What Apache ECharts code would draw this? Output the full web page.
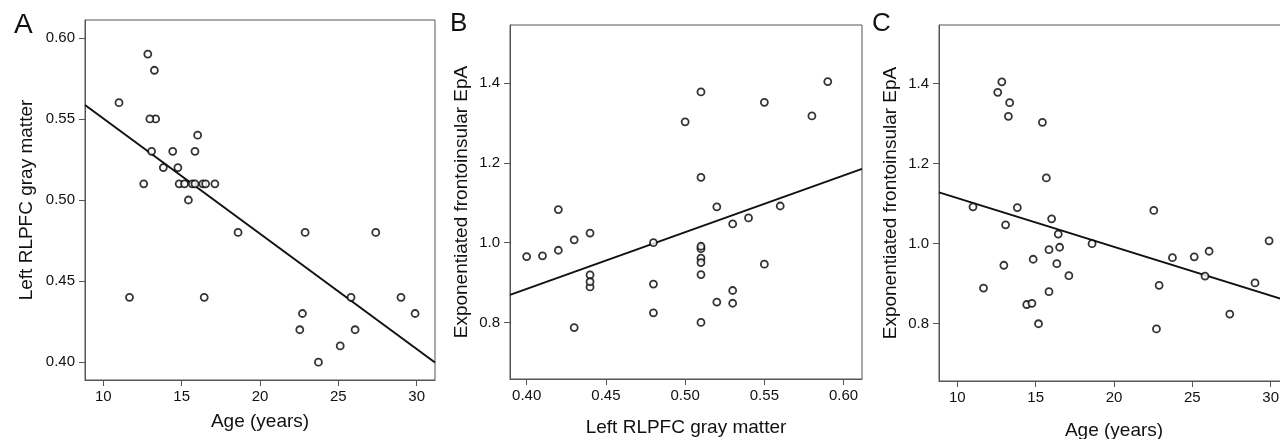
<!DOCTYPE html>
<html>
<head>
  <meta charset="utf-8">
  <title>RLPFC gray matter, age and frontoinsular EpA</title>
  <script src="https://cdn.jsdelivr.net/npm/echarts@6/dist/echarts.min.js"></script>
</head>
<body style="margin:0;background:#fff">
  <div id="main" style="width:1280px;height:439px;"></div>
  <script type="text/javascript">
    // one entry per subject (33)
    var age = [11.0, 11.67, 12.58, 12.84, 13.34, 13.26, 13.08, 12.97, 13.83, 14.43, 14.76,
      14.84, 15.18, 15.43, 15.68, 15.85, 15.85, 16.02, 16.35, 16.44, 16.53, 17.12,
      18.6, 22.54, 22.71, 22.88, 23.73, 25.12, 25.81, 26.07, 27.39, 29.0, 29.9];
    var grayMatter = [0.56, 0.44, 0.51, 0.59, 0.55, 0.58, 0.53, 0.55, 0.52, 0.53, 0.52,
      0.51, 0.51, 0.50, 0.51, 0.51, 0.53, 0.54, 0.51, 0.44, 0.51, 0.51,
      0.48, 0.42, 0.43, 0.48, 0.40, 0.41, 0.44, 0.42, 0.48, 0.44, 0.43];
    var epa = [1.092, 0.889, 1.378, 1.404, 1.352, 1.318, 1.047, 0.946, 1.090, 0.848, 0.851,
      0.961, 0.800, 1.303, 1.164, 0.985, 0.880, 1.062, 0.950, 1.024, 0.991, 0.920,
      1.000, 1.083, 0.787, 0.896, 0.965, 0.967, 0.919, 0.981, 0.824, 0.902, 1.007];

    // fit lines, end points
    var fitA = [[8.83, 0.5586], [31.17, 0.3998]];
    var fitB = [[0.3895, 0.869], [0.6116, 1.185]];
    var fitC = [[8.83, 1.128], [31.17, 0.856]];

    // tick labels
    var ageTicks = [10, 15, 20, 25, 30];
    var grayTicks = [0.40, 0.45, 0.50, 0.55, 0.60];
    var epaTicks = [0.8, 1.0, 1.2, 1.4];

    function pairs(xs, ys) {
      return xs.map(function (x, i) { return [x, ys[i]]; });
    }

    var font = 'Liberation Sans, Arial, sans-serif';
    var ink = '#111';
    var frame = '#555';

    function valueAxis(idx, min, max, ticks, digits, name, gap, margin) {
      return {
        type: 'value', gridIndex: idx, min: min, max: max,
        name: name, nameLocation: 'middle', nameGap: gap,
        nameTextStyle: { fontFamily: font, fontSize: 19, color: ink },
        splitLine: { show: false },
        axisLine: { show: true, lineStyle: { color: frame, width: 1 } },
        axisTick: { show: true, length: 6, customValues: ticks, lineStyle: { color: frame } },
        axisLabel: {
          customValues: ticks, margin: margin, fontFamily: font, fontSize: 15, color: ink,
          formatter: function (v) { return v.toFixed(digits); }
        }
      };
    }

    function scatter(idx, data) {
      return {
        type: 'scatter', xAxisIndex: idx, yAxisIndex: idx, data: data,
        symbol: 'circle', symbolSize: 7,
        itemStyle: { color: '#fff', borderColor: '#000', borderWidth: 1.8 },
        z: 3
      };
    }

    function fit(idx, data) {
      return {
        type: 'line', xAxisIndex: idx, yAxisIndex: idx, data: data,
        symbol: 'none', lineStyle: { color: '#111', width: 2 }, z: 2
      };
    }

    function letter(text, left, size) {
      return { text: text, left: left, top: 6,
        textStyle: { fontFamily: font, fontSize: size, fontWeight: 'normal', color: ink } };
    }

    var myChart = echarts.init(document.getElementById('main'));
    var gridStyle = {
      show: true, borderColor: frame, borderWidth: 1, backgroundColor: '#fff',
      containLabel: false, outerBoundsMode: 'none'
    };

    var option = {
      animation: false,
      title: [letter('A', 9, 28), letter('B', 445, 26), letter('C', 867, 26)],
      grid: [
        Object.assign({ left: 85, top: 20, width: 350, height: 360 }, gridStyle),
        Object.assign({ left: 510, top: 25, width: 352, height: 354 }, gridStyle),
        Object.assign({ left: 939, top: 25, width: 350, height: 356 }, gridStyle)
      ],
      xAxis: [
        valueAxis(0, 8.83, 31.17, ageTicks, 0, 'Age (years)', 32, 9),
        valueAxis(1, 0.3895, 0.6116, grayTicks, 2, 'Left RLPFC gray matter', 39, 9),
        valueAxis(2, 8.83, 31.17, ageTicks, 0, 'Age (years)', 40, 9)
      ],
      yAxis: [
        valueAxis(0, 0.389, 0.611, grayTicks, 2, 'Left RLPFC gray matter', 49, 10),
        valueAxis(1, 0.658, 1.546, epaTicks, 1, 'Exponentiated frontoinsular EpA', 39, 10),
        valueAxis(2, 0.657, 1.546, epaTicks, 1, 'Exponentiated frontoinsular EpA', 39, 10)
      ],
      series: [
        fit(0, fitA), scatter(0, pairs(age, grayMatter)),
        fit(1, fitB), scatter(1, pairs(grayMatter, epa)),
        fit(2, fitC), scatter(2, pairs(age, epa))
      ]
    };

    myChart.setOption(option);
  </script>
</body>
</html>
